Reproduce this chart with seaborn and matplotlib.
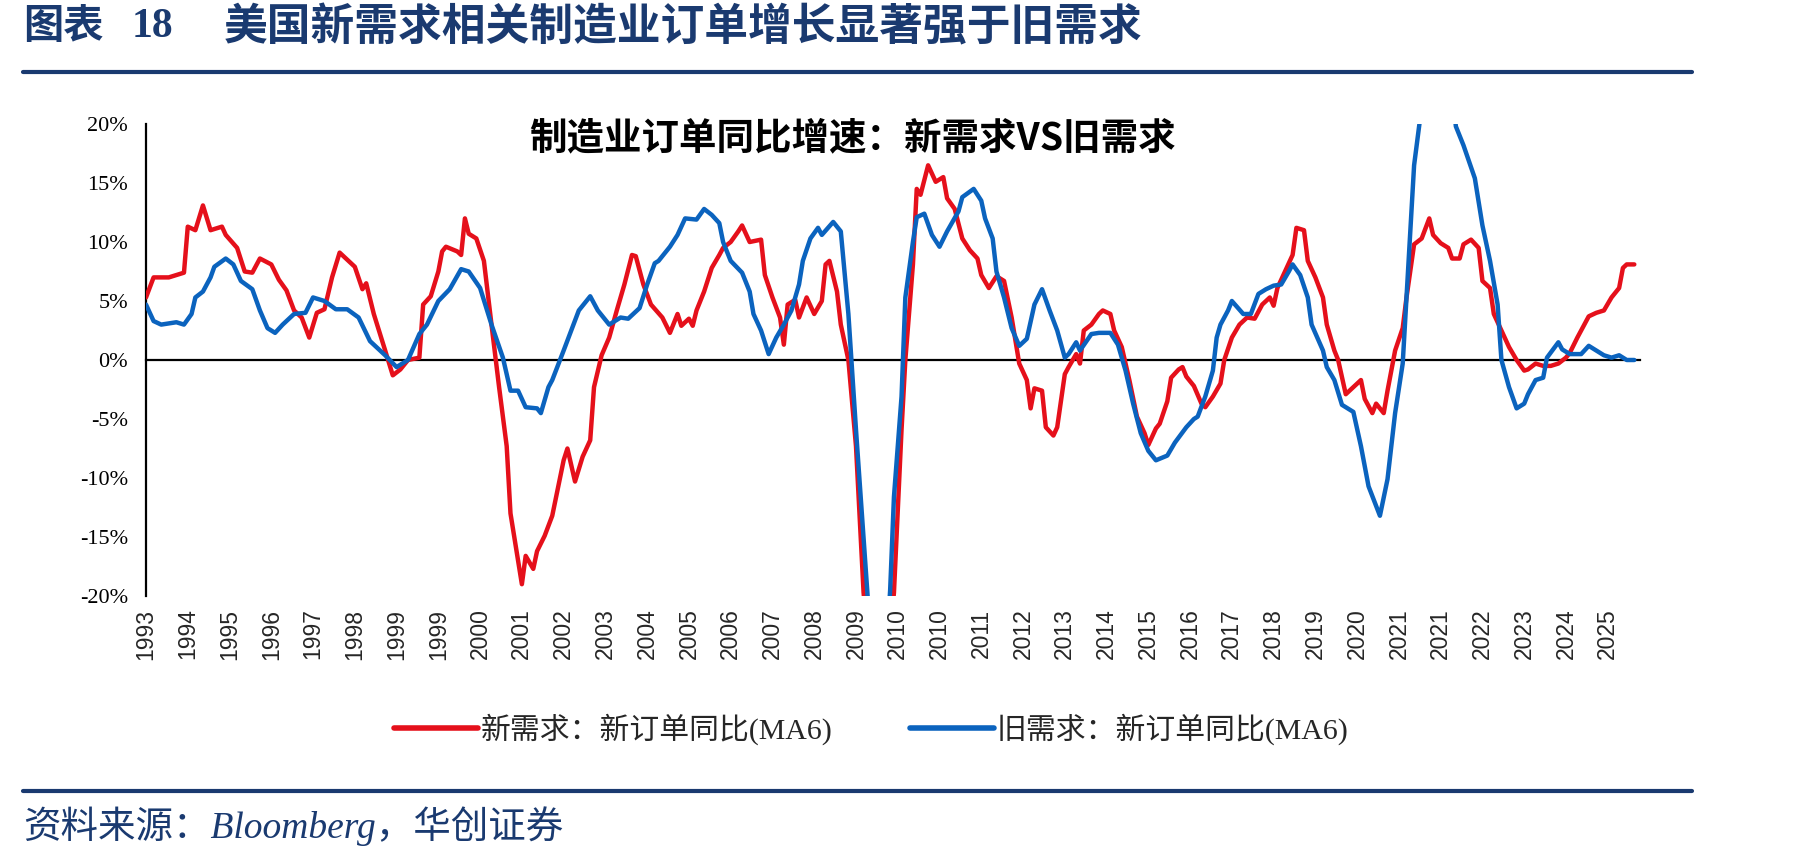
import numpy as np
import pandas as pd
import matplotlib
matplotlib.use("Agg")
import matplotlib.pyplot as plt
from matplotlib.lines import Line2D
from matplotlib.ticker import PercentFormatter
import seaborn as sns

# months counted from Jul 1993 (first observation)
new_month = [0, 2, 6, 10, 11, 13, 15, 17, 20, 21, 24, 26, 28, 30, 33, 35, 37, 39, 41, 43,
             45, 47, 49, 51, 53, 55, 57, 58, 60, 63, 65, 67, 69, 72, 73, 75, 77, 78, 79, 82,
             83, 84, 85, 87, 89, 91, 93, 95, 96, 99, 100, 102, 103, 105, 107, 110, 111, 113, 115, 117,
             118, 120, 122, 124, 125, 126, 128, 129, 131, 133, 136, 138, 140, 141, 143, 144, 145, 147, 149, 151,
             152, 154, 156, 157, 159, 162, 163, 165, 167, 168, 169, 171, 172, 174, 176, 178, 179, 180, 182, 183,
             185, 187, 189, 191, 193, 195, 197, 199, 200, 202, 203, 204, 206, 208, 210, 211, 213, 215, 217, 219,
             220, 222, 224, 226, 228, 230, 232, 233, 234, 236, 237, 239, 240, 242, 243, 245, 246, 247, 249, 251,
             252, 254, 255, 257, 259, 261, 263, 264, 266, 267, 269, 270, 272, 273, 274, 276, 278, 279, 281, 283,
             284, 286, 288, 290, 292, 294, 296, 297, 298, 300, 302, 303, 305, 306, 308, 310, 311, 313, 314, 316,
             318, 320, 321, 323, 324, 326, 327, 329, 331, 332, 334, 336, 338, 339, 341, 343, 344, 346, 347, 349,
             351, 352, 354, 355, 357, 359, 361, 363, 364, 366, 368, 370, 372, 374, 375, 377, 380, 382, 384, 386,
             388, 389, 390, 392]
new_yoy = [5.3, 7.0, 7.0, 7.4, 11.3, 11.0, 13.1, 11.0, 11.3, 10.6, 9.5, 7.5, 7.4, 8.6, 8.1, 6.8, 5.9, 4.2, 3.6, 1.9,
           4.0, 4.3, 7.0, 9.1, 8.5, 7.9, 6.0, 6.5, 3.9, 0.8, -1.3, -0.8, 0.0, 0.2, 4.7, 5.4, 7.5, 9.2, 9.6, 9.2,
           8.9, 12.0, 10.7, 10.3, 8.4, 3.0, -2.3, -7.3, -13.0, -19.0, -16.6, -17.7, -16.2, -14.9, -13.2, -8.5, -7.5, -10.3, -8.2, -6.8,
           -2.3, 0.4, 1.9, 4.2, 5.3, 6.4, 8.9, 8.8, 6.4, 4.7, 3.6, 2.3, 3.9, 2.9, 3.5, 2.9, 4.2, 5.8, 7.8, 8.9,
           9.5, 10.0, 10.9, 11.4, 10.0, 10.2, 7.2, 5.3, 3.6, 1.3, 4.7, 5.1, 3.6, 5.3, 3.9, 5.0, 8.1, 8.4, 5.8, 3.0,
           0.0, -7.3, -19.7, -27.0, -30.0, -27.0, -19.7, -5.9, 0.0, 8.1, 14.5, 14.0, 16.5, 15.1, 15.5, 13.7, 12.8, 10.3, 9.3, 8.6,
           7.2, 6.1, 7.1, 6.7, 3.6, -0.3, -1.7, -4.1, -2.4, -2.6, -5.7, -6.4, -5.7, -1.2, -0.6, 0.5, -0.3, 2.5, 3.0, 3.9,
           4.2, 3.9, 2.5, 1.1, -1.7, -4.8, -6.2, -7.2, -5.8, -5.4, -3.5, -1.5, -0.8, -0.6, -1.4, -2.2, -3.7, -4.0, -3.1, -2.0,
           0.0, 1.9, 3.0, 3.6, 3.5, 4.7, 5.3, 4.6, 6.1, 7.5, 8.9, 11.2, 11.0, 8.4, 7.0, 5.3, 3.0, 0.8, 0.0, -2.9,
           -2.3, -1.7, -3.3, -4.5, -3.7, -4.5, -2.6, 0.8, 2.7, 5.3, 9.8, 10.3, 12.0, 10.6, 9.9, 9.5, 8.6, 8.6, 9.8, 10.2,
           9.5, 6.7, 6.1, 3.9, 2.5, 1.1, 0.0, -0.9, -0.8, -0.3, -0.5, -0.5, -0.3, 0.2, 0.6, 1.9, 3.7, 4.0, 4.2, 5.3,
           6.1, 7.8, 8.1, 8.1]

old_month = [0, 2, 4, 8, 10, 12, 13, 15, 17, 18, 21, 23, 25, 28, 30, 32, 34, 36, 39, 42,
             44, 47, 50, 53, 56, 59, 63, 66, 69, 72, 74, 77, 80, 83, 85, 88, 91, 94, 96, 98,
             100, 103, 104, 106, 107, 110, 112, 114, 117, 119, 120, 122, 125, 127, 130, 132, 134, 135, 138, 140,
             142, 145, 147, 149, 151, 152, 154, 157, 159, 160, 162, 164, 166, 168, 170, 172, 173, 175, 177, 178,
             181, 183, 185, 187, 190, 192, 194, 196, 197, 199, 200, 202, 203, 205, 207, 209, 211, 214, 215, 218,
             220, 221, 223, 224, 226, 228, 230, 232, 234, 236, 238, 240, 242, 243, 245, 246, 249, 251, 254, 256,
             258, 260, 262, 264, 266, 269, 271, 274, 276, 277, 279, 281, 282, 283, 285, 286, 289, 291, 293, 295,
             297, 299, 301, 302, 304, 306, 307, 310, 311, 313, 315, 318, 320, 322, 325, 327, 329, 331, 332, 333,
             334, 336, 338, 341, 343, 345, 347, 350, 352, 354, 356, 357, 359, 361, 363, 364, 366, 368, 369, 372,
             373, 375, 378, 380, 382, 384, 386, 388, 390, 392]
old_yoy = [4.7, 3.3, 3.0, 3.2, 3.0, 3.9, 5.3, 5.8, 7.0, 7.9, 8.6, 8.1, 6.7, 6.0, 4.2, 2.7, 2.3, 3.0, 3.9, 4.0,
           5.3, 5.0, 4.3, 4.3, 3.6, 1.6, 0.4, -0.6, 0.0, 2.2, 3.0, 5.0, 6.0, 7.7, 7.5, 6.1, 3.0, 0.2, -2.6, -2.6,
           -4.0, -4.1, -4.5, -2.3, -1.7, 0.8, 2.5, 4.2, 5.4, 4.2, 3.8, 3.0, 3.6, 3.5, 4.4, 6.4, 8.2, 8.4, 9.6, 10.6,
           12.0, 11.9, 12.8, 12.3, 11.6, 10.0, 8.4, 7.4, 5.8, 3.9, 2.5, 0.5, 1.9, 3.0, 4.2, 6.4, 8.4, 10.3, 11.2, 10.6,
           11.7, 10.9, 3.9, -5.9, -19.7, -30.0, -30.0, -19.5, -11.6, -3.1, 5.3, 10.0, 12.1, 12.4, 10.6, 9.6, 10.9, 12.6, 13.8, 14.5,
           13.5, 12.0, 10.3, 7.5, 5.3, 2.7, 1.2, 1.8, 4.7, 6.0, 4.2, 2.5, 0.2, 0.5, 1.5, 0.8, 2.2, 2.3, 2.3, 1.3,
           -0.9, -3.7, -6.2, -7.7, -8.5, -8.1, -7.0, -5.7, -5.0, -4.8, -3.1, -0.9, 1.9, 3.0, 4.2, 5.0, 3.9, 3.9, 5.6, 6.0,
           6.3, 6.4, 7.5, 8.1, 7.2, 5.3, 3.0, 0.8, -0.6, -1.7, -3.8, -4.4, -7.3, -10.7, -13.2, -10.1, -4.5, -0.3, 5.3, 10.9,
           16.5, 21.5, 27.0, 29.0, 26.0, 19.8, 18.2, 15.4, 11.4, 8.4, 4.7, 0.0, -2.3, -4.1, -3.7, -2.9, -1.7, -1.5, 0.2, 1.5,
           0.9, 0.5, 0.5, 1.2, 0.8, 0.4, 0.2, 0.4, 0.0, 0.0]

# one label every 11 months, starting at the first observation
tick_labels = ["1993", "1994", "1995", "1996", "1997", "1998", "1999", "1999", "2000", "2001",
               "2002", "2003", "2004", "2005", "2006", "2007", "2008", "2009", "2010", "2010",
               "2011", "2012", "2013", "2014", "2015", "2016", "2017", "2018", "2019", "2020",
               "2021", "2021", "2022", "2023", "2024", "2025"]
tick_step = 11

series_names = ["新需求：新订单同比(MA6)", "旧需求：新订单同比(MA6)"]
RED = "#E5101B"
BLUE = "#0B63BE"
NAVY = "#1A3A70"

sns.set_style("white")
plt.rcParams["font.family"] = ["Liberation Serif", "Noto Sans CJK SC", "DejaVu Sans"]
plt.rcParams["axes.unicode_minus"] = False

W, H = 1801, 861
fig = plt.figure(figsize=(W / 100, H / 100), dpi=100)
ax = fig.add_axes([146 / W, 1 - 596 / H, (1640 - 146) / W, (596 - 124) / H])

df_new = pd.DataFrame({"month": new_month, "yoy": new_yoy})
df_old = pd.DataFrame({"month": old_month, "yoy": old_yoy})
sns.lineplot(data=df_new, x="month", y="yoy", color=RED, linewidth=3.2, ax=ax, zorder=3)
sns.lineplot(data=df_old, x="month", y="yoy", color=BLUE, linewidth=3.2, ax=ax, zorder=3)

ax.set_xlim(0, 393.5)
ax.set_ylim(-20, 20)
ax.set_xlabel("")
ax.set_ylabel("")
ax.set_yticks(np.arange(-20, 21, 5))
ax.yaxis.set_major_formatter(PercentFormatter(decimals=0))
ax.tick_params(axis="y", length=7, width=1.5, direction="out", pad=6,
               labelsize=16, colors="black")
for lab in ax.get_yticklabels():
    lab.set_family(["Liberation Serif"])

for s in ["top", "right"]:
    ax.spines[s].set_visible(False)
ax.spines["left"].set_linewidth(1.6)
ax.spines["left"].set_color("black")
ax.spines["bottom"].set_position(("data", 0))
ax.spines["bottom"].set_linewidth(1.6)
ax.spines["bottom"].set_color("black")

ticks = np.arange(len(tick_labels)) * tick_step
ax.set_xticks(ticks)
ax.tick_params(axis="x", length=8, width=1.5, direction="out", labelbottom=False)

sec = ax.secondary_xaxis(0)
sec.set_xticks(ticks, labels=tick_labels)
sec.tick_params(axis="x", length=0, pad=9)
sec.spines["bottom"].set_visible(False)
for lab in sec.get_xticklabels():
    lab.set_rotation(90)
    lab.set_family(["Liberation Sans"])
    lab.set_fontsize(16.5)

# inner chart title
fig.text(853 / W, 1 - 138 / H, "制造业订单同比增速：新需求VS旧需求", ha="center", va="center",
         fontsize=27, fontweight="bold", family=["Noto Sans CJK SC", "DejaVu Sans"], color="black")

# report header
fig.text(23 / W, 1 - 27 / H, "图表", ha="left", va="center", fontsize=29, fontweight="bold",
         family=["Noto Sans CJK SC"], color=NAVY)
fig.text(132 / W, 1 - 27 / H, "18", ha="left", va="center", fontsize=30, fontweight="bold",
         family=["Liberation Serif"], color=NAVY)
fig.text(224 / W, 1 - 27 / H, "美国新需求相关制造业订单增长显著强于旧需求", ha="left", va="center",
         fontsize=31.5, fontweight="bold", family=["Noto Sans CJK SC"], color=NAVY)
fig.add_artist(Line2D([23 / W, 1692 / W], [1 - 72 / H, 1 - 72 / H], color=NAVY, linewidth=3))
fig.add_artist(Line2D([23 / W, 1692 / W], [1 - 791 / H, 1 - 791 / H], color=NAVY, linewidth=3))
fig.text(23 / W, 1 - 826 / H, "资料来源：Bloomberg，华创证券", ha="left", va="center", fontsize=27,
         style="italic", family=["Liberation Serif", "Noto Sans CJK SC"], color=NAVY)

handles = [Line2D([], [], color=RED, linewidth=4), Line2D([], [], color=BLUE, linewidth=4)]
fig.legend(handles, series_names, loc="center left", bbox_to_anchor=(394 / W, 1 - 729 / H),
           ncol=2, frameon=False, prop={"family": ["Liberation Serif", "Noto Sans CJK SC"], "size": 21.5},
           handlelength=2.8, handletextpad=0.1, columnspacing=2.6, borderpad=0, borderaxespad=0)

fig.savefig("out.png", dpi=100)
